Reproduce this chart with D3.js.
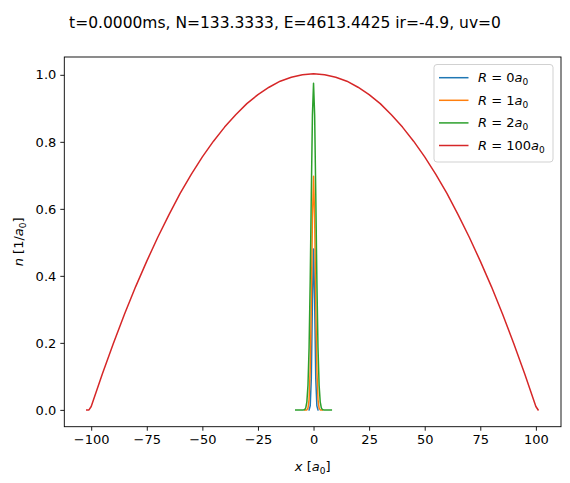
<!DOCTYPE html>
<html>
<head>
<meta charset="utf-8">
<script src="https://cdn.jsdelivr.net/npm/d3@7"></script>
<style>
  body { margin: 0; background: #fff; }
  svg { font-family: "DejaVu Sans", sans-serif; }
</style>
</head>
<body>
<svg width="570" height="483"></svg>
<script>
// series
const labels = ["0", "1", "2", "100"]
const colors = ["#1f77b4", "#ff7f0e", "#2ca02c", "#d62728"]

const xR0 = [-2, -1.5, -1, -0.5, 0, 0.5, 1, 1.5, 2]
const nR0 = [0, 0.012, 0.094, 0.325, 0.48, 0.325, 0.094, 0.012, 0]

const xR1 = [-4, -3.5, -3, -2.5, -2, -1.5, -1, -0.5, 0, 0.5, 1, 1.5, 2, 2.5, 3, 3.5, 4]
const nR1 = [0, 0, 0, 0.005, 0.031, 0.12, 0.319, 0.573, 0.697, 0.573, 0.319, 0.12, 0.031, 0.005, 0, 0, 0]

const xR2 = [-8, -7, -6, -5, -4.5, -4, -3.5, -3, -2.5, -2, -1.5, -1, -0.5, 0, 0.5, 1, 1.5, 2, 2.5, 3, 3.5, 4, 4.5, 5, 6, 7, 8]
const nR2 = [0, 0, 0, 0, 0, 0.001, 0.006, 0.024, 0.074, 0.187, 0.385, 0.645, 0.879, 0.975, 0.879, 0.645, 0.385, 0.187, 0.074, 0.024, 0.006, 0.001, 0, 0, 0, 0, 0]

const xR100 = [-102, -101, -100, -95, -90, -85, -80, -75, -70, -65, -60, -55, -50, -45, -40, -35, -30, -25, -20, -15, -10, -5, 0,
  5, 10, 15, 20, 25, 30, 35, 40, 45, 50, 55, 60, 65, 70, 75, 80, 85, 90, 95, 100, 101]
const nR100 = [0, 0, 0.010, 0.107, 0.199, 0.286, 0.368, 0.444, 0.516, 0.583, 0.646, 0.703, 0.755, 0.802, 0.844, 0.881, 0.914, 0.941, 0.963, 0.981, 0.993, 1.0005, 1.003,
  1.0005, 0.993, 0.981, 0.963, 0.941, 0.914, 0.881, 0.844, 0.802, 0.755, 0.703, 0.646, 0.583, 0.516, 0.444, 0.368, 0.286, 0.199, 0.107, 0.010, 0]

const xTicks = [-100, -75, -50, -25, 0, 25, 50, 75, 100]
const yTicks = [0, 0.2, 0.4, 0.6, 0.8, 1.0]

const title = "t=0.0000ms, N=133.3333, E=4613.4425 ir=-4.9, uv=0"

const svg = d3.select("svg")
const m = {left: 64.3, right: 561, top: 57, bottom: 426.7}

const x = d3.scaleLinear().domain([-112.1, 111.3]).range([m.left, m.right])
const y = d3.scaleLinear().domain([-0.0502, 1.0532]).range([m.bottom, m.top])

const series = [
  {xs: xR0, ys: nR0},
  {xs: xR1, ys: nR1},
  {xs: xR2, ys: nR2},
  {xs: xR100, ys: nR100}
]

const line = d3.line().x(d => x(d[0])).y(d => y(d[1]))

svg.append("defs").append("clipPath").attr("id", "clip")
  .append("rect").attr("x", m.left).attr("y", m.top).attr("width", m.right - m.left).attr("height", m.bottom - m.top)

const plot = svg.append("g").attr("clip-path", "url(#clip)")
series.forEach(function (s, i) {
  plot.append("path")
    .datum(d3.zip(s.xs, s.ys))
    .attr("d", line)
    .attr("fill", "none")
    .attr("stroke", colors[i])
    .attr("stroke-width", 1.5)
    .attr("stroke-linejoin", "round")
    .attr("stroke-linecap", "square")
})

// axes
const xAxis = svg.append("g").attr("transform", `translate(0,${m.bottom})`)
  .call(d3.axisBottom(x).tickValues(xTicks).tickSize(4).tickPadding(4)
    .tickFormat(d => d < 0 ? "\u2212" + Math.abs(d) : d))
const yAxis = svg.append("g").attr("transform", `translate(${m.left},0)`)
  .call(d3.axisLeft(y).tickValues(yTicks).tickSize(4).tickPadding(4).tickFormat(d3.format(".1f")))

;[xAxis, yAxis].forEach(function (a) {
  a.select(".domain").remove()
  a.selectAll("line").attr("stroke", "#000").attr("stroke-width", 0.9)
  a.selectAll("text").attr("fill", "#000").style("font-size", "13px")
    .style("font-family", "DejaVu Sans")
})

svg.append("rect")
  .attr("x", m.left).attr("y", m.top)
  .attr("width", m.right - m.left).attr("height", m.bottom - m.top)
  .attr("fill", "none").attr("stroke", "#000").attr("stroke-width", 0.9)

// title
svg.append("text")
  .attr("x", 285).attr("y", 28)
  .attr("text-anchor", "middle")
  .style("font-size", "15.5px")
  .text(title)

// x label
const xl = svg.append("text")
  .attr("x", (m.left + m.right) / 2).attr("y", 471)
  .attr("text-anchor", "middle")
  .style("font-size", "13px")
xl.append("tspan").attr("font-style", "italic").text("x")
xl.append("tspan").text(" [")
xl.append("tspan").attr("font-style", "italic").text("a")
xl.append("tspan").attr("dy", 3).style("font-size", "9px").text("0")
xl.append("tspan").attr("dy", -3).text("]")

// y label
const yl = svg.append("text")
  .attr("transform", `translate(23,${(m.top + m.bottom) / 2}) rotate(-90)`)
  .attr("text-anchor", "middle")
  .style("font-size", "13px")
yl.append("tspan").attr("font-style", "italic").text("n")
yl.append("tspan").text(" [1/")
yl.append("tspan").attr("font-style", "italic").text("a")
yl.append("tspan").attr("dy", 3).style("font-size", "9px").text("0")
yl.append("tspan").attr("dy", -3).text("]")

// legend
const lg = svg.append("g")
lg.append("rect")
  .attr("x", 434).attr("y", 64.5).attr("width", 119).attr("height", 97.5)
  .attr("rx", 3)
  .attr("fill", "#fff").attr("fill-opacity", 0.8)
  .attr("stroke", "#cccccc").attr("stroke-width", 0.9)

labels.forEach(function (lab, i) {
  const cy = 77.7 + i * 22.6
  lg.append("line")
    .attr("x1", 439).attr("x2", 468.5).attr("y1", cy).attr("y2", cy)
    .attr("stroke", colors[i]).attr("stroke-width", 1.5)
  const t = lg.append("text").attr("x", 478).attr("y", cy + 4.5).style("font-size", "13px")
  t.append("tspan").attr("font-style", "italic").text("R")
  t.append("tspan").text(" = " + lab)
  t.append("tspan").attr("font-style", "italic").text("a")
  t.append("tspan").attr("dy", 3).style("font-size", "9px").text("0")
})
</script>
</body>
</html>
